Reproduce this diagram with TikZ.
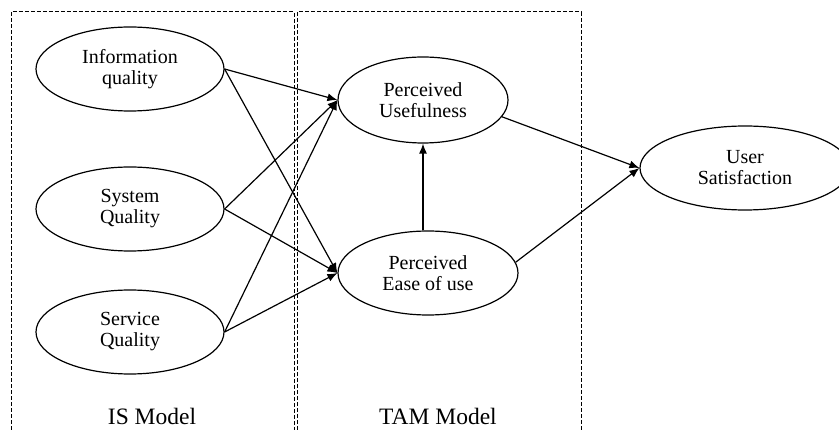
\documentclass[tikz,border=0pt]{standalone}
\usepackage{fontspec}
\setmainfont{Liberation Serif}
\usetikzlibrary{shapes.geometric,arrows.meta}
\tikzset{
  construct/.style={ellipse, draw, line width=1.2pt, inner sep=0pt,
    minimum height=84pt, align=center, font=\fontsize{20}{21}\selectfont},
  path/.style={line width=1.2pt, -{Latex[length=10pt,width=8pt]}},
  modelbox/.style={dashed, dash pattern=on 4pt off 2pt, line width=1pt},
  modelname/.style={font=\fontsize{23.5}{26}\selectfont}
}

\begin{document}
\begin{tikzpicture}[x=1pt,y=-1pt]
  \clip (0,0) rectangle (839,430);
  % the two models
  \draw [modelbox] (11,430) -- (11,12) -- (294,12) -- (294,430);
  \draw [modelbox] (297,430) -- (297,12) -- (581,12) -- (581,430);
  \node [modelname] (ismodel) at (152,416) {IS Model};
  \node [modelname] (tammodel) at (438,416) {TAM Model};
  % constructs
  \node [construct, minimum width=188pt] (info) at (130,69) {Information\\quality};
  \node [construct, minimum width=188pt] (sys) at (130,209) {System\\Quality};
  \node [construct, minimum width=188pt] (serv) at (130,332) {Service\\Quality};
  \node [construct, minimum width=170pt, minimum height=86pt] (pu) at (423,100) {Perceived\\Usefulness};
  \node [construct, minimum width=180pt] (peou) at (428,273) {Perceived\\Ease of use};
  \node [construct, minimum width=210pt] (us) at (745,168) {User\\Satisfaction};
  % paths
  \foreach \src in {info, sys, serv} {
    \draw [path] (\src.east) -- (pu.west);
    \draw [path] (\src.east) -- (peou.west);
  }
  \draw [path] (peou.north -| pu.south) -- (pu.south);
  \draw [path] (pu.-12) -- (us.west);
  \draw [path] (peou.7) -- (us.west);
\end{tikzpicture}
\end{document}
